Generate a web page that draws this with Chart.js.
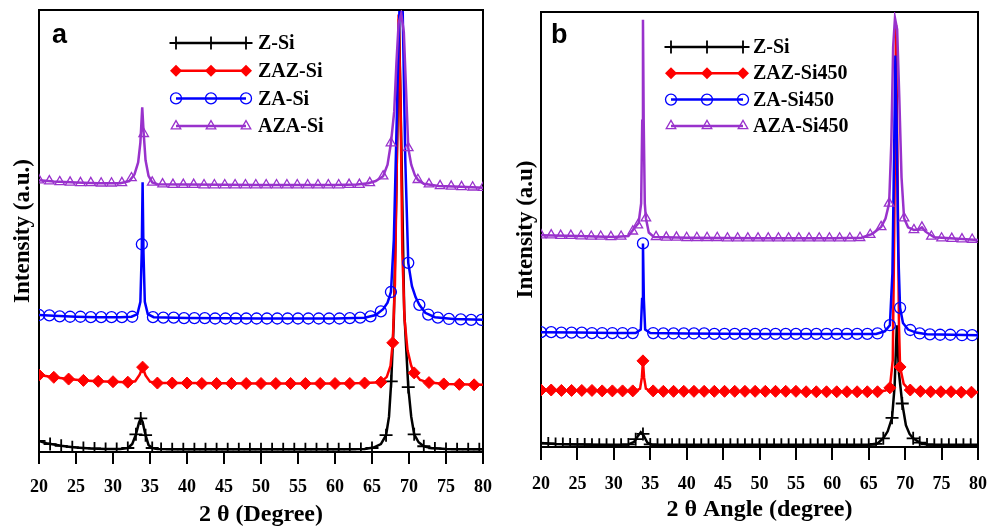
<!DOCTYPE html>
<html>
<head>
<meta charset="utf-8">
<script src="https://cdn.jsdelivr.net/npm/chart.js@4/dist/chart.umd.min.js"></script>
<style>
  body { margin: 0; background: #fff; }
  #wrap { position: relative; width: 999px; height: 530px; background: #fff; }
  canvas { position: absolute; top: 0; }
</style>
</head>
<body>
<div id="wrap">
  <canvas id="chartA" width="499" height="530" style="left:0"></canvas>
  <canvas id="chartB" width="500" height="530" style="left:499px"></canvas>
</div>
<script>
// x axis ticks (2 theta, degrees)
const xTicks = [20, 25, 30, 35, 40, 45, 50, 55, 60, 65, 70, 75, 80];

// ---- panel a: traces, [2theta, intensity offset units 0..100] ----
const aZSi = [[20,2.5],[21,2.0],[22,1.7],[23,1.4],[24,1.2],[25,1.0],[27,0.8],[29,0.7],[31,0.7],[32,0.9],[32.6,1.8],[33.1,4.0],[33.5,6.6],[33.75,7.6],[34.0,6.8],[34.4,3.8],[34.8,1.6],[35.3,0.9],[36,0.7],[40,0.6],[50,0.6],[60,0.6],[64,0.7],[65.2,1.0],[66.2,1.8],[66.9,3.8],[67.3,8],[67.6,16],[67.95,30],[68.3,60],[68.65,98],[69.0,66],[69.35,32],[69.9,14.7],[70.3,8],[70.7,4.0],[71.3,2.2],[72,1.3],[73,0.9],[75,0.7],[80,0.6]];
const aZSiMarks = [[20,2.5],[21.5,1.8],[23,1.4],[24.5,1.1],[26,0.9],[27.5,0.8],[29,0.7],[30.5,0.7],[32,0.9],[33.1,4.0],[33.75,7.6],[34.4,3.8],[35.3,0.9],[36.5,0.7],[38,0.6],[39.5,0.6],[41,0.6],[42.5,0.6],[44,0.6],[45.5,0.6],[47,0.6],[48.5,0.6],[50,0.6],[51.5,0.6],[53,0.6],[54.5,0.6],[56,0.6],[57.5,0.6],[59,0.6],[60.5,0.6],[62,0.6],[63.5,0.7],[65,0.9],[66.9,3.8],[67.6,16],[69.9,14.7],[70.7,4.0],[72,1.3],[73.5,0.8],[75,0.7],[76.5,0.6],[78,0.6],[79.5,0.6]];

const aZAZ = [[20,17.4],[22,16.9],[24,16.5],[26,16.2],[28,16.0],[30,15.9],[32,15.8],[33,16.0],[33.6,17.5],[34.0,19.2],[34.4,17.3],[35,15.9],[36,15.6],[40,15.6],[50,15.5],[60,15.5],[64,15.6],[66.2,15.8],[67.0,17.0],[67.5,19.5],[67.8,24.7],[68.1,38],[68.35,65],[68.6,99],[68.85,80],[69.1,45],[69.4,30],[69.8,23],[70.3,19.5],[70.7,17.9],[71.5,16.3],[72.7,15.7],[75,15.4],[80,15.2]];
const aZAZMarks = [[20,17.4],[22,16.9],[24,16.5],[26,16.2],[28,16.0],[30,15.9],[32,15.8],[34,19.2],[36,15.6],[38,15.6],[40,15.6],[42,15.5],[44,15.5],[46,15.5],[48,15.5],[50,15.5],[52,15.5],[54,15.5],[56,15.5],[58,15.5],[60,15.5],[62,15.5],[64,15.6],[66.2,15.8],[67.8,24.7],[70.7,17.9],[72.7,15.7],[74.7,15.4],[76.8,15.3],[78.8,15.2]];

const aZA = [[20,31.0],[22,30.8],[25,30.6],[28,30.5],[31,30.5],[32.5,30.6],[33.3,31.2],[33.7,34],[33.88,45],[34.0,61],[34.12,45],[34.3,34],[34.7,31.2],[35.5,30.5],[40,30.3],[50,30.2],[60,30.2],[64,30.4],[65.5,31],[66.5,32.3],[67.1,33.8],[67.56,36.2],[67.95,48],[68.3,72],[68.7,99.5],[69.15,99.5],[69.5,66],[69.9,42.8],[70.4,37.5],[70.9,35],[71.4,33.3],[72.2,31.5],[73.5,30.5],[76,30.1],[80,29.9]];
const aZAMarks = [[20,31.0],[21.4,30.9],[22.8,30.7],[24.2,30.6],[25.6,30.6],[27.0,30.5],[28.4,30.5],[29.8,30.5],[31.2,30.5],[32.6,30.6],[33.9,47],[35.4,30.5],[36.8,30.4],[38.2,30.4],[39.6,30.3],[41.0,30.3],[42.4,30.3],[43.8,30.2],[45.2,30.2],[46.6,30.2],[48.0,30.2],[49.4,30.2],[50.8,30.2],[52.2,30.2],[53.6,30.2],[55.0,30.2],[56.4,30.2],[57.8,30.2],[59.2,30.2],[60.6,30.2],[62.0,30.3],[63.4,30.4],[64.8,30.7],[66.2,31.8],[67.56,36.2],[69.9,42.8],[71.4,33.3],[72.6,31.1],[73.9,30.4],[75.4,30.1],[77.0,30.0],[78.4,29.9],[79.8,29.9]];

const aAZA = [[20,61.5],[22,61.2],[25,61.0],[28,60.8],[31,60.8],[32.2,61.3],[32.9,62.8],[33.4,65.5],[33.7,70],[33.95,78],[34.15,72],[34.4,66],[34.8,62.5],[35.3,61],[36,60.6],[40,60.5],[50,60.4],[60,60.4],[63,60.5],[64.5,60.8],[65.5,61.3],[66.5,62.4],[67.1,65],[67.56,69.9],[68.0,77],[68.3,88],[68.6,97],[68.95,99.2],[69.3,95],[69.6,82],[69.9,68.8],[70.3,65],[70.8,62.6],[71.2,61.6],[72,60.7],[74,60.2],[77,60.0],[80,59.8]];
const aAZAMarks = [[20,61.5],[21.4,61.3],[22.8,61.1],[24.2,61.0],[25.6,60.9],[27.0,60.9],[28.4,60.8],[29.8,60.8],[31.2,60.9],[32.5,62.0],[34.15,72],[35.3,61],[36.7,60.6],[38.1,60.5],[39.5,60.5],[40.9,60.5],[42.3,60.4],[43.7,60.4],[45.1,60.4],[46.5,60.4],[47.9,60.4],[49.3,60.4],[50.7,60.4],[52.1,60.4],[53.5,60.4],[54.9,60.4],[56.3,60.4],[57.7,60.4],[59.1,60.4],[60.5,60.4],[61.9,60.5],[63.3,60.5],[64.7,60.9],[66.5,62.4],[67.56,69.9],[69.9,68.8],[71.2,61.6],[72.7,60.6],[74.2,60.2],[75.7,60.1],[77.1,60.0],[78.6,59.9],[80,59.8]];

// ---- panel b ----
const bZSi = [[20,0.9],[22,0.7],[25,0.6],[30,0.5],[32,0.6],[32.8,1.2],[33.3,2.5],[33.7,3.4],[34.1,2.6],[34.6,1.0],[35.3,0.5],[40,0.5],[50,0.5],[60,0.5],[65,0.5],[66.2,0.8],[67,2.0],[67.6,3.6],[68.2,6.7],[68.55,14],[68.85,28],[69.15,17],[69.6,10],[70.1,5],[70.6,3],[71.1,2],[72,1],[73,0.6],[76,0.5],[80,0.5]];
const bZSiMarks = [[20,0.9],[21,0.8],[22,0.7],[23,0.7],[24,0.6],[25,0.6],[26,0.6],[27,0.5],[28,0.5],[29,0.5],[30,0.5],[31,0.5],[32,0.6],[33,1.8],[34,3.0],[35,0.6],[36,0.5],[37,0.5],[38,0.5],[39,0.5],[40,0.5],[41,0.5],[42,0.5],[43,0.5],[44,0.5],[45,0.5],[46,0.5],[47,0.5],[48,0.5],[49,0.5],[50,0.5],[51,0.5],[52,0.5],[53,0.5],[54,0.5],[55,0.5],[56,0.5],[57,0.5],[58,0.5],[59,0.5],[60,0.5],[61,0.5],[62,0.5],[63,0.5],[64,0.5],[65,0.5],[66,0.7],[67,2.0],[68.2,6.7],[69.6,10],[71.1,2],[72,1],[73,0.6],[74,0.5],[75,0.5],[76,0.5],[77,0.5],[78,0.5],[79,0.5],[80,0.5]];

const bZAZ = [[20,13.1],[25,13.0],[30,12.9],[33,12.9],[33.6,13.4],[33.85,16],[34.0,19.8],[34.15,16],[34.4,13.4],[35,12.9],[40,12.8],[50,12.8],[60,12.7],[66,12.7],[67.3,13.0],[67.9,13.6],[68.3,20],[68.5,50],[68.75,97],[69.0,55],[69.15,28],[69.3,18.4],[69.8,14.5],[70.5,13.2],[72,12.8],[80,12.6]];
const bZAZMarks = [[20,13.1],[21.4,13.1],[22.8,13.0],[24.2,13.0],[25.6,13.0],[27.0,13.0],[28.4,12.9],[29.8,12.9],[31.2,12.9],[32.6,12.9],[34.0,19.8],[35.4,12.9],[36.8,12.8],[38.2,12.8],[39.6,12.8],[41.0,12.8],[42.4,12.8],[43.8,12.8],[45.2,12.8],[46.6,12.8],[48.0,12.8],[49.4,12.8],[50.8,12.8],[52.2,12.8],[53.6,12.8],[55.0,12.8],[56.4,12.7],[57.8,12.7],[59.2,12.7],[60.6,12.7],[62.0,12.7],[63.4,12.7],[64.8,12.7],[66.2,12.7],[67.9,13.6],[69.3,18.4],[70.7,13.1],[72.1,12.8],[73.5,12.7],[74.9,12.7],[76.3,12.7],[77.7,12.6],[79.1,12.6]];

const bZA = [[20,26.4],[25,26.3],[30,26.2],[33,26.2],[33.7,27],[33.88,34],[34.0,46.8],[34.12,34],[34.3,27],[35,26.2],[40,26.1],[50,26.0],[60,26.0],[66,26.0],[67.2,26.6],[67.9,28.0],[68.25,40],[68.5,70],[68.65,90],[68.85,72],[69.05,45],[69.3,32],[69.7,28.5],[70.4,27],[71.5,26.3],[73,25.9],[80,25.7]];
const bZAMarks = [[20,26.4],[21.4,26.4],[22.8,26.3],[24.2,26.3],[25.6,26.3],[27.0,26.2],[28.4,26.2],[29.8,26.2],[31.2,26.2],[32.6,26.2],[34.0,46.8],[35.4,26.2],[36.8,26.1],[38.2,26.1],[39.6,26.1],[41.0,26.1],[42.4,26.1],[43.8,26.0],[45.2,26.0],[46.6,26.0],[48.0,26.0],[49.4,26.0],[50.8,26.0],[52.2,26.0],[53.6,26.0],[55.0,26.0],[56.4,26.0],[57.8,26.0],[59.2,26.0],[60.6,26.0],[62.0,26.0],[63.4,26.0],[64.8,26.0],[66.2,26.1],[67.9,28.0],[69.3,32],[70.7,26.9],[72.0,26.1],[73.4,25.9],[74.8,25.8],[76.2,25.8],[77.8,25.7],[79.2,25.7]];

const bAZA = [[20,48.7],[25,48.5],[30,48.3],[32,48.5],[32.8,50.3],[33.4,51.5],[33.75,56],[33.9,75],[34.0,98.2],[34.1,75],[34.25,56],[34.4,52.6],[34.8,49.3],[35.5,48.3],[40,48.1],[50,48.0],[60,48.0],[64,48.1],[65.5,49],[66.7,50.6],[67.3,52.5],[67.8,56],[68.1,70],[68.35,92],[68.6,98.6],[68.9,96],[69.2,80],[69.5,62],[69.85,52.6],[70.4,50.5],[71.2,49.9],[71.8,50.0],[72.3,50.5],[72.8,49.5],[74,48.2],[80,47.6]];
const bAZAMarks = [[20,48.7],[21.4,48.7],[22.7,48.6],[24.1,48.6],[25.5,48.5],[26.9,48.4],[28.2,48.4],[29.6,48.3],[31.0,48.4],[32.6,49.6],[33.3,51],[34.4,52.6],[35.8,48.3],[37.2,48.2],[38.6,48.2],[40.0,48.1],[41.4,48.1],[42.8,48.1],[44.2,48.1],[45.6,48.0],[47.0,48.0],[48.4,48.0],[49.8,48.0],[51.2,48.0],[52.6,48.0],[54.0,48.0],[55.4,48.0],[56.8,48.0],[58.2,48.0],[59.6,48.0],[61.0,48.0],[62.4,48.0],[63.8,48.1],[65.2,48.8],[66.7,50.6],[67.8,56],[69.85,52.6],[71.2,49.9],[72.3,50.5],[73.6,48.4],[75.0,48.0],[76.4,47.9],[77.8,47.8],[79.2,47.7]];

const aNames = ['Z-Si', 'ZAZ-Si', 'ZA-Si', 'AZA-Si'];
const bNames = ['Z-Si', 'ZAZ-Si450', 'ZA-Si450', 'AZA-Si450'];

const serif = "'Liberation Serif', 'Times New Roman', serif";
const colors = ['#000000', '#ff0000', '#0000ff', '#9932cc'];
const styles = [
  { pointStyle: 'cross', radius: 6.5, filled: false, bw: 1.8 },
  { pointStyle: 'rectRot', radius: 6, filled: true, bw: 1 },
  { pointStyle: 'circle', radius: 5.5, filled: false, bw: 1.3 },
  { pointStyle: 'triangle', radius: 5.5, filled: false, bw: 1.3 }
];

function makeSets(lines, marks) {
  const sets = [];
  lines.forEach((line, i) => {
    const order = 10 - i * 2;
    sets.push({
      data: line, borderColor: colors[i], borderWidth: 2.5,
      pointRadius: 0, tension: 0, fill: false, order: order
    });
    sets.push({
      data: marks[i], showLine: false, order: order - 1,
      pointStyle: styles[i].pointStyle, pointRadius: styles[i].radius,
      pointBorderColor: colors[i], pointBorderWidth: styles[i].bw,
      pointBackgroundColor: styles[i].filled ? colors[i] : 'rgba(0,0,0,0)'
    });
  });
  return sets;
}

// small marker drawing for the legend samples
function mark(ctx, style, x, y, color) {
  const r = style.radius;
  ctx.save();
  ctx.strokeStyle = color; ctx.fillStyle = color; ctx.lineWidth = style.bw;
  ctx.beginPath();
  if (style.pointStyle === 'cross') {
    ctx.moveTo(x - r, y); ctx.lineTo(x + r, y);
    ctx.moveTo(x, y - r); ctx.lineTo(x, y + r);
    ctx.stroke();
  } else if (style.pointStyle === 'rectRot') {
    ctx.moveTo(x, y - r); ctx.lineTo(x + r, y); ctx.lineTo(x, y + r); ctx.lineTo(x - r, y);
    ctx.closePath(); ctx.fill();
  } else if (style.pointStyle === 'circle') {
    ctx.arc(x, y, r, 0, Math.PI * 2); ctx.stroke();
  } else {
    ctx.moveTo(x, y - r); ctx.lineTo(x + r * 0.87, y + r * 0.5); ctx.lineTo(x - r * 0.87, y + r * 0.5);
    ctx.closePath(); ctx.stroke();
  }
  ctx.restore();
}

const framePlugin = {
  id: 'frame',
  beforeDatasetsDraw(chart) {
    const { ctx, chartArea: a } = chart;
    ctx.save();
    ctx.strokeStyle = '#000'; ctx.lineWidth = 2;
    ctx.strokeRect(a.left, a.top, a.right - a.left, a.bottom - a.top);
    ctx.restore();
  },
  afterDraw(chart, args, opts) {
    const ctx = chart.ctx;
    ctx.save();
    ctx.fillStyle = '#000';
    ctx.font = "bold 27px 'Liberation Sans', Arial, sans-serif";
    ctx.textBaseline = 'alphabetic';
    ctx.fillText(opts.letter, opts.letterX, opts.letterY);
    ctx.font = 'bold 20px ' + serif;
    ctx.textBaseline = 'middle';
    opts.names.forEach((name, i) => {
      const y = opts.y0 + i * opts.dy;
      ctx.strokeStyle = colors[i]; ctx.lineWidth = 2.5;
      ctx.beginPath(); ctx.moveTo(opts.x0, y); ctx.lineTo(opts.x1, y); ctx.stroke();
      [opts.x0, (opts.x0 + opts.x1) / 2, opts.x1].forEach(mx => mark(ctx, styles[i], mx, y, colors[i]));
      ctx.fillStyle = '#000';
      ctx.fillText(name, opts.textX, y + 1);
    });
    ctx.restore();
  }
};

function makeChart(id, lines, marks, cfg) {
  return new Chart(document.getElementById(id), {
    type: 'line',
    data: { datasets: makeSets(lines, marks) },
    plugins: [framePlugin],
    options: {
      responsive: false, animation: false, devicePixelRatio: 1,
      layout: { padding: cfg.padding },
      plugins: { legend: { display: false }, tooltip: { enabled: false }, frame: cfg.frame },
      scales: {
        x: {
          type: 'linear', min: 20, max: 80,
          afterBuildTicks: s => { s.ticks = xTicks.map(v => ({ value: v })); },
          afterFit: s => { s.paddingLeft = 0; s.paddingRight = 0; },
          grid: { display: true, drawOnChartArea: false, drawTicks: true, tickLength: cfg.tickLength, color: '#000', lineWidth: 2 },
          border: { display: true, color: '#000', width: 2 },
          ticks: { color: '#000', padding: cfg.tickPad, maxRotation: 0, font: { family: serif, size: 18, weight: 'bold' } },
          title: { display: true, text: cfg.xTitle, color: '#000', padding: cfg.xTitlePad, font: { family: serif, size: 24, weight: 'bold' } }
        },
        y: {
          min: 0, max: 100,
          ticks: { display: false },
          grid: { display: false, drawTicks: false },
          border: { display: true, color: '#000', width: 2 },
          title: { display: true, text: cfg.yTitle, color: '#000', padding: cfg.yTitlePad, font: { family: serif, size: 23, weight: 'bold' } }
        }
      }
    }
  });
}

makeChart('chartA', [aZSi, aZAZ, aZA, aAZA], [aZSiMarks, aZAZMarks, aZAMarks, aAZAMarks], {
  padding: { left: 5.2, right: 16, top: 10, bottom: 0 },
  tickLength: 12, tickPad: 12.2,
  xTitle: '2 θ (Degree)', xTitlePad: { top: -9.4, bottom: 0.6 },
  yTitle: 'Intensity (a.u.)', yTitlePad: { top: 4, bottom: 2.2 },
  frame: { letter: 'a', letterX: 52, letterY: 43, names: aNames, x0: 176, x1: 246, textX: 258, y0: 43, dy: 27.7 }
});

makeChart('chartB', [bZSi, bZAZ, bZA, bAZA], [bZSiMarks, bZAZMarks, bZAMarks, bAZAMarks], {
  padding: { left: 9.2, right: 21, top: 12, bottom: 3 },
  tickLength: 13, tickPad: 13.2,
  xTitle: '2 θ Angle (degree)', xTitlePad: { top: -12.4, bottom: 2.6 },
  yTitle: 'Intensity (a.u)', yTitlePad: { top: 4, bottom: 1.2 },
  frame: { letter: 'b', letterX: 52, letterY: 43, names: bNames, x0: 172, x1: 244, textX: 254, y0: 47, dy: 26.3 }
});
</script>
</body>
</html>
